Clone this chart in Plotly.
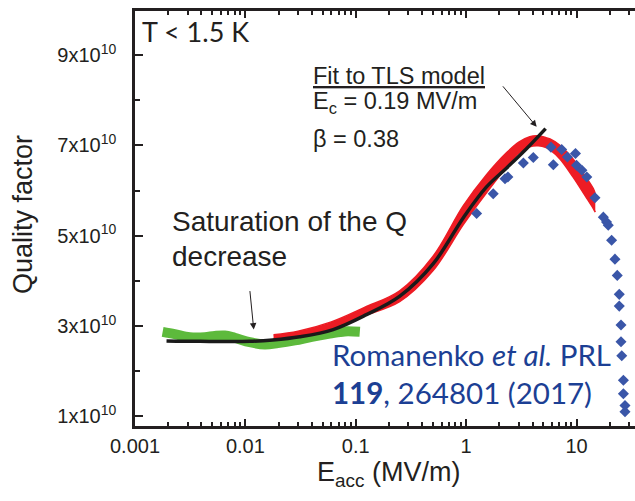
import plotly.graph_objects as go

# ---- data (E_acc in MV/m, Q in units of 1e10) ----
green_e = [0.00178, 0.00229, 0.00313, 0.00429, 0.00528, 0.0065, 0.0080, 0.01096,
           0.0150, 0.0197, 0.0281, 0.0400, 0.0582, 0.0796, 0.1089]
green_q = [2.87, 2.82, 2.75, 2.75, 2.78, 2.79, 2.74, 2.64,
           2.59, 2.62, 2.68, 2.76, 2.83, 2.88, 2.87]

# red data cloud: upper and lower envelope of the scatter
red_e = [0.018, 0.03, 0.06, 0.12, 0.25, 0.5, 0.94, 1.53, 2.33, 3.0, 3.77,
         4.5, 5.3, 5.76, 7.08, 9.35, 12.0, 14.2, 14.8]
red_top = [2.805, 2.885, 3.09, 3.41, 3.78, 4.54, 5.66, 6.35, 6.84, 7.07, 7.19,
           7.21, 7.17, 7.14, 7.00, 6.69, 6.32, 6.04, 5.92]
red_bot = [2.715, 2.775, 2.95, 3.23, 3.54, 4.22, 5.24, 5.95, 6.52, 6.83, 6.97,
           6.99, 6.95, 6.90, 6.70, 6.29, 5.88, 5.60, 5.52]

fit_e = [0.00193, 0.0039, 0.011, 0.0177, 0.0311, 0.0624, 0.125, 0.251, 0.504,
         0.95, 1.53, 2.33, 3.54, 5.25]
fit_q = [2.67, 2.66, 2.66, 2.69, 2.76, 2.92, 3.25, 3.66, 4.38,
         5.41, 6.08, 6.50, 6.93, 7.37]

blue_e = [1.245, 1.76, 2.25, 2.39, 3.30, 4.06, 5.87, 6.17, 7.34, 8.28, 9.79, 10.0,
          11.2, 12.4, 14.7, 17.5, 18.7, 19.4, 20.8, 22.3, 23.4, 24.4, 24.4, 25.3,
          25.3, 25.7, 26.6, 26.6, 27.5, 27.5]
blue_q = [5.49, 5.93, 6.26, 6.30, 6.61, 6.73, 6.96, 6.57, 6.91, 6.74, 6.82, 6.56,
          6.45, 6.30, 5.84, 5.41, 5.30, 5.23, 4.90, 4.48, 4.12, 3.70, 3.44, 3.02,
          2.65, 2.34, 1.80, 1.50, 1.24, 1.10]

x_tick_vals = [0.001, 0.01, 0.1, 1, 10]
x_tick_text = ["0.001", "0.01", "0.1", "1", "10"]
y_tick_vals = [1e10, 3e10, 5e10, 7e10, 9e10]
y_tick_text = ["1x10<sup>10</sup>", "3x10<sup>10</sup>", "5x10<sup>10</sup>",
               "7x10<sup>10</sup>", "9x10<sup>10</sup>"]

E10 = 1e10
INK = "#231f20"
RED = "#ed1c24"
ARIAL = "Liberation Sans, Arial, sans-serif"
CAL = "Lato, Calibri, sans-serif"

fig = go.Figure()
fig.add_trace(go.Scatter(x=green_e, y=[v * E10 for v in green_q], mode="lines",
                         line=dict(color="#5dba3c", width=10, shape="spline"),
                         hoverinfo="skip", showlegend=False))

fig.add_trace(go.Scatter(x=red_e, y=[v * E10 for v in red_bot], mode="lines",
                         line=dict(color=RED, width=1.5, shape="spline"),
                         hoverinfo="skip", showlegend=False))
fig.add_trace(go.Scatter(x=red_e, y=[v * E10 for v in red_top], mode="lines",
                         line=dict(color=RED, width=1.5, shape="spline"),
                         fill="tonexty", fillcolor=RED,
                         hoverinfo="skip", showlegend=False))

fig.add_trace(go.Scatter(x=fit_e, y=[v * E10 for v in fit_q], mode="lines",
                         line=dict(color="#1a1a1a", width=3.5, shape="spline"),
                         showlegend=False))
fig.add_trace(go.Scatter(x=blue_e, y=[v * E10 for v in blue_q], mode="markers",
                         marker=dict(symbol="diamond", size=8.5, color="#3a56a8"),
                         showlegend=False))

# plot area in pixels: left 135, right 635, top 11, bottom 426
L, R, T, B = 135, 635, 11, 426


def px(x, y):
    return (x - L) / (R - L), (B - y) / (B - T)


def label(text, x, y, size, font=ARIAL, color=INK, xanchor="left"):
    fx, fy = px(x, y)
    fig.add_annotation(text=text, x=fx, y=fy, xref="paper", yref="paper",
                       xanchor=xanchor, yanchor="middle", showarrow=False,
                       font=dict(family=font, size=size, color=color))


label("T &lt; 1.5 K", 140, 31, 27, font=CAL)
label("<u>Fit to TLS model</u>", 311, 76, 23.5)
label("E<sub>c</sub> = 0.19 MV/m", 311, 103, 23.5)
label("β = 0.38", 311, 139, 23.5)
label("Saturation of the Q", 170, 221, 28)
label("decrease", 170, 256, 28)
label("Romanenko <i>et al.</i> PRL", 330, 354, 29.5, font=CAL, color="#1c3f94")
label("<b>119</b>, 264801 (2017)", 330, 392, 29.5, font=CAL, color="#1c3f94")
label("E<sub>acc</sub> (MV/m)", 388, 474, 27, xanchor="center")

fx, fy = px(23, 215)
fig.add_annotation(text="Quality factor", x=fx, y=fy, xref="paper", yref="paper",
                   textangle=-90, showarrow=False, xanchor="center", yanchor="middle",
                   font=dict(family=ARIAL, size=27, color=INK))

# arrows pointing at the fit end and at the low-field plateau
fig.add_annotation(x=0.639, y=7.41 * E10, ax=-35, ay=-42, text="", showarrow=True,
                   arrowhead=2, arrowsize=1.3, arrowwidth=1, arrowcolor=INK, standoff=0)
fig.add_annotation(x=-1.924, y=2.92 * E10, ax=-4, ay=-40, text="", showarrow=True,
                   arrowhead=2, arrowsize=1.3, arrowwidth=1, arrowcolor=INK, standoff=0)

x_minor = [k * 10 ** e for e in range(-3, 2) for k in range(2, 10)]
y_minor = [2e10, 4e10, 6e10, 8e10]

fig.update_xaxes(type="log", range=[-3, 1.53], showline=True, linewidth=2.5,
                 linecolor=INK, mirror="allticks", ticks="inside", ticklen=7,
                 tickwidth=2, tickcolor=INK, tickmode="array", tickvals=x_tick_vals,
                 ticktext=x_tick_text, showgrid=False, zeroline=False,
                 tickfont=dict(family=ARIAL, size=20, color=INK),
                 minor=dict(ticks="inside", ticklen=4, tickwidth=1.5, tickcolor=INK,
                            tickmode="array", tickvals=x_minor, showgrid=False))
fig.update_yaxes(range=[0.785 * E10, 9.975 * E10], showline=True, linewidth=2.5,
                 linecolor=INK, mirror=False, ticks="inside", ticklen=8,
                 tickwidth=2, tickcolor=INK, tickmode="array", tickvals=y_tick_vals,
                 ticktext=y_tick_text, showgrid=False, zeroline=False,
                 ticklabelstandoff=12,
                 tickfont=dict(family=ARIAL, size=20, color=INK),
                 minor=dict(ticks="inside", ticklen=5, tickwidth=2, tickcolor=INK,
                            tickmode="array", tickvals=y_minor, showgrid=False))

fig.update_layout(width=635, height=501, margin=dict(l=L, r=635 - R, t=T, b=501 - B),
                  paper_bgcolor="white", plot_bgcolor="white", showlegend=False)

fig.write_html("out.html")
